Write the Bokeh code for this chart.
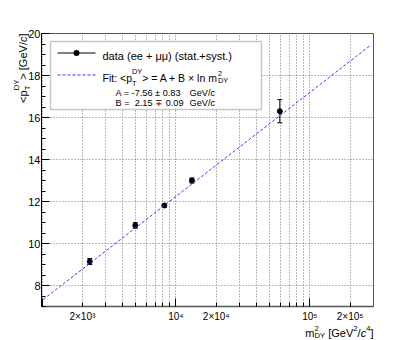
import numpy as np
from bokeh.plotting import figure
from bokeh.models import (Range1d, FixedTicker, CustomJSTickFormatter, Label, Arrow,
                          BoxAnnotation, Whisker, TeeHead, ColumnDataSource, LinearAxis,
                          LogAxis, Grid)
from bokeh.embed import file_html
from bokeh.resources import INLINE

# ---------------- data ----------------
m2_dy = [2270, 4970, 8190, 13160, 59700]          # GeV^2/c^4
pt_mean = [9.14, 10.86, 11.81, 13.00, 16.30]      # GeV/c
pt_err = [0.14, 0.13, 0.08, 0.12, 0.55]
fit_A = -7.56
fit_B = 2.15
fit_x_range = [1020, 2.87e5]
x_label_ticks = [2e3, 1e4, 2e4, 1e5, 2e5]
x_tick_labels = ["2×10³", "10⁴", "2×10⁴", "10⁵", "2×10⁵"]
y_ticks = [8, 10, 12, 14, 16, 18, 20]
legend_data = "data (ee + μμ) (stat.+syst.)"
legend_A = "A = -7.56 ± 0.83"
legend_B = "B =\u00a0\u00a02.15 ∓ 0.09"

FONT = "Liberation Sans"

# decade sub-divisions used for ticks and grid
x_sub = [k * 10.0 ** n for n in (3, 4, 5) for k in range(2, 10)]
x_decades = [1e3, 1e4, 1e5]
y_minor = [v / 2 for v in range(14, 41)]

p = figure(frame_width=332, frame_height=273, x_axis_type="log",
           x_range=Range1d(990, 2.99e5), y_range=Range1d(7, 20),
           output_backend="svg", toolbar_location=None,
           x_axis_location=None, y_axis_location=None,
           min_border_left=41, min_border_right=35, min_border_top=33,
           min_border_bottom=32)
p.grid.visible = False
p.outline_line_color = "#555555"
p.outline_line_width = 1
p.background_fill_color = "white"
p.border_fill_color = "white"

# grids
p.add_layout(Grid(dimension=0, ticker=FixedTicker(ticks=x_sub + x_decades),
                  grid_line_color="#777777", grid_line_dash="1 2", grid_line_width=1))
p.add_layout(Grid(dimension=1, ticker=FixedTicker(ticks=y_ticks),
                  grid_line_color="#777777", grid_line_dash="1 2", grid_line_width=1))

# x axis: ticks only
ax_ticks = LogAxis(ticker=FixedTicker(ticks=x_decades, minor_ticks=x_sub),
                   formatter=CustomJSTickFormatter(code="return ''"),
                   major_tick_in=8, major_tick_out=0, minor_tick_in=4, minor_tick_out=0,
                   major_label_text_font_size="0px", major_label_standoff=0,
                   axis_line_color="#555555", axis_line_width=1.5,
                   major_tick_line_color="black", minor_tick_line_color="black")
p.add_layout(ax_ticks, "below")
# x axis: labels only
lab_fmt = CustomJSTickFormatter(args=dict(vals=x_label_ticks, labs=x_tick_labels), code="""
for (let i = 0; i < vals.length; i++) {
  if (Math.abs(vals[i] - tick) / vals[i] < 1e-6) return labs[i];
}
return '';
""")
ax_labels = LogAxis(ticker=FixedTicker(ticks=x_label_ticks, minor_ticks=[]),
                    formatter=lab_fmt, major_tick_in=0, major_tick_out=0,
                    minor_tick_in=0, minor_tick_out=0, axis_line_color=None,
                    major_tick_line_color=None, minor_tick_line_color=None,
                    major_label_standoff=4, major_label_text_font=FONT,
                    major_label_text_font_size="10px", major_label_text_color="black")
p.add_layout(ax_labels, "below")

# y axis
ay = LinearAxis(ticker=FixedTicker(ticks=y_ticks, minor_ticks=y_minor),
                major_tick_in=8, major_tick_out=0, minor_tick_in=4, minor_tick_out=0,
                axis_line_color="black", axis_line_width=1,
                major_label_standoff=1, major_label_text_font=FONT,
                major_label_text_font_size="11px", major_label_text_color="black")
p.add_layout(ay, "left")

# data
src = ColumnDataSource(dict(
    x=m2_dy, y=pt_mean,
    lo=[m - e for m, e in zip(pt_mean, pt_err)],
    hi=[m + e for m, e in zip(pt_mean, pt_err)]))
p.add_layout(Whisker(base="x", upper="hi", lower="lo", source=src, dimension="height",
                     line_color="black", line_width=1,
                     upper_head=TeeHead(size=5, line_color="black", line_width=1),
                     lower_head=TeeHead(size=5, line_color="black", line_width=1)))
p.scatter("x", "y", source=src, size=5, color="black")

# fit
fit_y = [fit_A + fit_B * np.log(x) for x in fit_x_range]
p.line(fit_x_range, fit_y, line_color="#3a3aff", line_dash="3 2", line_width=1)

# ------------- text helper ------------------
W = {' ': 278, '\u00a0': 278, '(': 333, ')': 333, '+': 584, '-': 333, '.': 278, '/': 278,
     ':': 278, '<': 584, '=': 584, '>': 584, 'A': 667, 'B': 667, 'D': 722, 'F': 611,
     'G': 778, 'T': 611, 'V': 667, 'Y': 667, '[': 278, ']': 278, 'a': 556, 'c': 500,
     'd': 556, 'e': 556, 'i': 222, 'l': 222, 'm': 833, 'n': 556, 'p': 556, 's': 500,
     't': 278, 'y': 500, '×': 584, '±': 584, '∓': 584, 'μ': 576}


def tw(s, size):
    return sum(W.get(ch, 556) for ch in s) / 1000.0 * size


def rich(pieces, x0, y0, F, angle=0.0, align="left", canvas=False):
    """Lay out text pieces: (text, kind[, shift]) with kind n / i / sup / sub.
    canvas=False: frame-relative screen units, y upwards.
    canvas=True : canvas pixels, y downwards, drawn from the lower side panel
                  (annotations there are not clipped to the frame)."""
    pieces = [pc if len(pc) == 3 else
              (pc[0], pc[1], 0.5 if pc[1] == "sup" else (-0.4 if pc[1] == "sub" else 0.0))
              for pc in pieces]
    items = []
    u = 0.0
    i = 0
    while i < len(pieces):
        t, k, sh = pieces[i]
        if (k in ("sup", "sub") and i + 1 < len(pieces)
                and pieces[i + 1][1] in ("sup", "sub") and pieces[i + 1][1] != k):
            t2, k2, sh2 = pieces[i + 1]
            s = 0.7 * F
            items.append((t, k, sh, u))
            items.append((t2, k2, sh2, u))
            u += max(tw(t, s), tw(t2, s))
            i += 2
            continue
        s = 0.7 * F if k in ("sup", "sub") else F
        items.append((t, k, sh, u))
        u += tw(t, s)
        i += 1
    shift = -u if align == "right" else 0.0
    sgn = -1.0 if canvas else 1.0
    for t, k, sh, uu in items:
        uu += shift
        size = 0.7 * F if k in ("sup", "sub") else F
        v = sh * F
        if angle == 0:
            x, y = x0 + uu, y0 + sgn * v
        else:
            x, y = x0 - v, y0 + sgn * uu
        lab = Label(x=x, y=y, x_units="canvas" if canvas else "screen",
                    y_units="canvas" if canvas else "screen", text=t,
                    angle=angle, text_font=FONT, text_font_size=f"{size:.2f}px",
                    text_font_style="italic" if k == "i" else "normal",
                    text_baseline="alphabetic", text_align="left",
                    text_color="black")
        p.add_layout(lab, "below" if canvas else "center")


# axis titles (canvas pixels)
rich([("m", "n"), ("2", "sup", 0.45), ("DY", "sub", -0.25), ("\u00a0[GeV", "n"),
      ("2", "sup", 0.45), ("/", "n"), ("c", "i"), ("4", "sup", 0.45), ("]", "n")],
     373, 332.5, 11, align="right", canvas=True)
rich([("<p", "n"), ("DY", "sup", 0.6), ("T", "sub", -0.45), ("> [GeV/", "n"), ("c", "i"),
      ("]", "n")], 22.5, 33, 11, angle=np.pi / 2, align="right", canvas=True)

# legend
p.add_layout(BoxAnnotation(left=9, right=220, top=265, bottom=197,
                           left_units="screen", right_units="screen",
                           top_units="screen", bottom_units="screen",
                           fill_color="white", fill_alpha=1.0,
                           line_color="#444444", line_width=1.5))
p.add_layout(Arrow(end=None, x_start=16, y_start=253.5, x_end=54, y_end=253.5,
                   start_units="screen", end_units="screen",
                   line_color="black", line_width=1))
p.add_layout(BoxAnnotation(left=32, right=38, top=256.5, bottom=250.5,
                           left_units="screen", right_units="screen",
                           top_units="screen", bottom_units="screen",
                           fill_color="black", fill_alpha=1.0, line_color=None,
                           border_radius=3))
p.add_layout(Arrow(end=None, x_start=16, y_start=231.5, x_end=54, y_end=231.5,
                   start_units="screen", end_units="screen",
                   line_color="#3a3aff", line_width=1, line_dash="3 2"))
rich([(legend_data, "n")], 61, 250.5, 11)
rich([("Fit: <p", "n"), ("DY", "sup", 0.6), ("T", "sub", -0.5), ("> = A + B × ln m", "n"),
      ("2", "sup", 0.45), ("DY", "sub", -0.25)], 61, 228.7, 10.5)
rich([(legend_A, "n")], 74, 213.4, 9.2)
rich([("GeV/", "n"), ("c", "i")], 148, 213.4, 9.2)
rich([(legend_B, "n")], 74, 203.4, 9.2)
rich([("GeV/", "n"), ("c", "i")], 148, 203.4, 9.2)

open("out.html", "w").write(file_html(p, INLINE))
